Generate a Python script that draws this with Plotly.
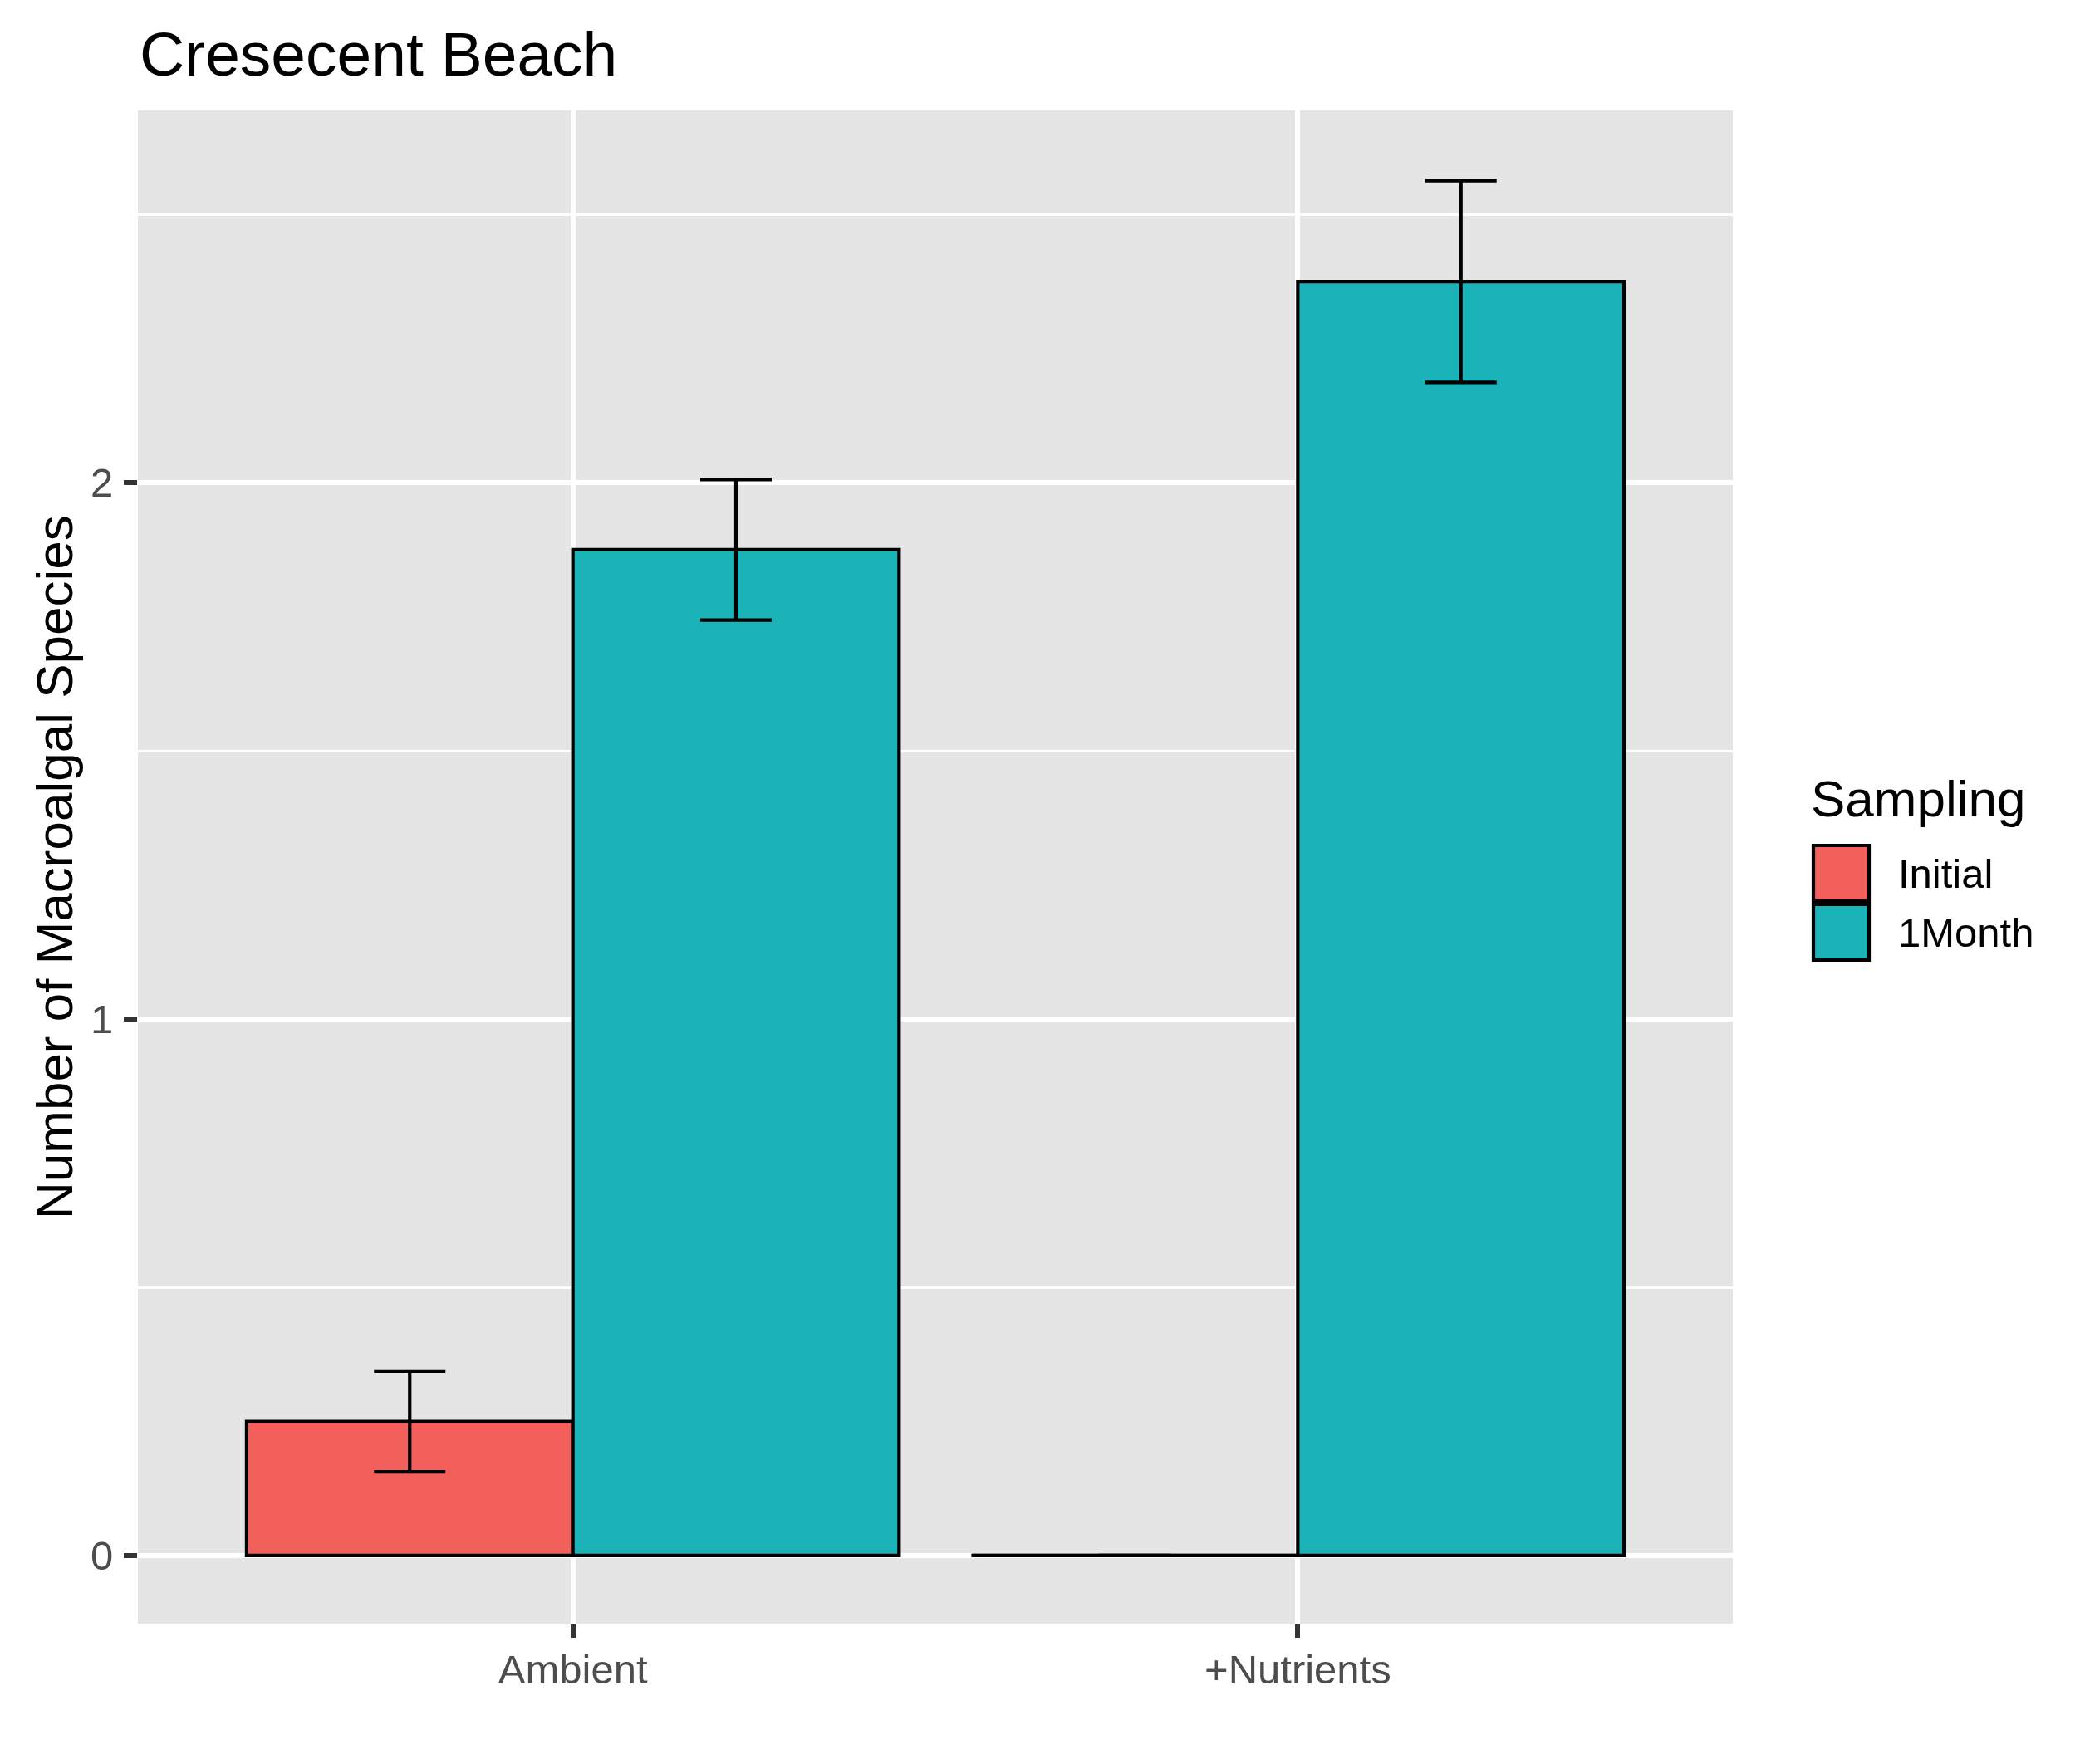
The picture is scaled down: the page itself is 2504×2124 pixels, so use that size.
import plotly.graph_objects as go

# data
categories = ["Ambient", "+Nutrients"]
x_pos = [1, 2]
initial_mean = [0.25, 0.0]
initial_se = [0.094, 0.0]
month_mean = [1.875, 2.375]
month_se = [0.131, 0.188]

y_ticks = [0, 1, 2]
y_range = [-0.127, 2.694]

FONT = "Liberation Sans, Arial, Helvetica, sans-serif"
RED = "#F35F5B"
TEAL = "#19B3B8"
BAR_W = 0.45
EDGE = 4.2
GRID = 5.5

W, H = 2504, 2124
ML, MR, MT, MB = 158, 426, 125, 177
PW = W - ML - MR
PH = H - MT - MB


def px_x(p):
    return (p - ML) / PW


def px_y(p):
    return (H - MB - p) / PH


err_style = {"type": "data", "visible": True, "color": "black", "thickness": EDGE, "width": 43}

fig = go.Figure()
fig.add_trace(
    go.Bar(
        x=x_pos,
        y=initial_mean,
        width=BAR_W,
        offset=-BAR_W,
        marker={"color": RED, "line": {"color": "black", "width": EDGE}},
        error_y={**err_style, "array": initial_se},
        name="Initial",
    )
)
fig.add_trace(
    go.Bar(
        x=x_pos,
        y=month_mean,
        width=BAR_W,
        offset=0,
        marker={"color": TEAL, "line": {"color": "black", "width": EDGE}},
        error_y={**err_style, "array": month_se},
        name="1Month",
    )
)

# zero-height bars still show their outline in the reference
zx, zy = [], []
for xp, v in zip(x_pos, initial_mean):
    if v == 0:
        zx += [xp - BAR_W, xp, None]
        zy += [v, v, None]
if zx:
    fig.add_trace(
        go.Scatter(x=zx, y=zy, mode="lines", line={"color": "black", "width": EDGE}, hoverinfo="skip")
    )

fig.update_layout(
    width=W,
    height=H,
    barmode="overlay",
    showlegend=False,
    paper_bgcolor="white",
    plot_bgcolor="#E5E5E5",
    margin={"l": ML, "r": MR, "t": MT, "b": MB, "autoexpand": False},
    font={"family": FONT, "color": "black"},
    title={
        "text": "Cresecent Beach",
        "font": {"size": 75, "color": "black", "family": FONT},
        "x": 160 / W,
        "xanchor": "left",
        "xref": "container",
        "y": 1 - 57 / H,
        "yanchor": "middle",
        "yref": "container",
    },
)
fig.update_xaxes(
    range=[0.4, 2.6],
    tickvals=x_pos,
    ticktext=categories,
    showgrid=True,
    gridcolor="white",
    gridwidth=GRID,
    zeroline=False,
    ticks="outside",
    ticklen=16,
    tickwidth=GRID,
    tickcolor="#333333",
    tickfont={"size": 49, "color": "#4D4D4D", "family": FONT},
    ticklabelstandoff=-4,
    showline=False,
)
fig.update_yaxes(
    range=y_range,
    tickvals=y_ticks,
    showgrid=True,
    gridcolor="white",
    gridwidth=GRID,
    minor={"dtick": 0.5, "tick0": 0, "showgrid": True, "gridcolor": "white", "gridwidth": 3, "ticks": ""},
    zeroline=False,
    ticks="outside",
    ticklen=16,
    tickwidth=GRID,
    tickcolor="#333333",
    tickfont={"size": 49, "color": "#4D4D4D", "family": FONT},
    ticklabelstandoff=3,
    showline=False,
)

# y axis title
fig.add_annotation(
    text="Number of Macroalgal Species",
    xref="paper",
    yref="paper",
    x=px_x(57),
    y=0.5,
    xanchor="center",
    yanchor="middle",
    textangle=-90,
    showarrow=False,
    font={"size": 62, "color": "black", "family": FONT},
)

# legend drawn by hand so the keys match the reference size
fig.add_annotation(
    text="Sampling",
    xref="paper",
    yref="paper",
    x=px_x(2170),
    y=px_y(953),
    xanchor="left",
    yanchor="middle",
    showarrow=False,
    font={"size": 62, "color": "black", "family": FONT},
)
for label, color, top in [("Initial", RED, 1010), ("1Month", TEAL, 1081)]:
    fig.add_shape(
        type="rect",
        xref="paper",
        yref="paper",
        x0=px_x(2175),
        x1=px_x(2242),
        y0=px_y(top + 67),
        y1=px_y(top),
        fillcolor=color,
        line={"color": "black", "width": EDGE},
    )
    fig.add_annotation(
        text=label,
        xref="paper",
        yref="paper",
        x=px_x(2275),
        y=px_y(top + 34),
        xanchor="left",
        yanchor="middle",
        showarrow=False,
        font={"size": 49, "color": "black", "family": FONT},
    )

fig.write_html("out.html")
